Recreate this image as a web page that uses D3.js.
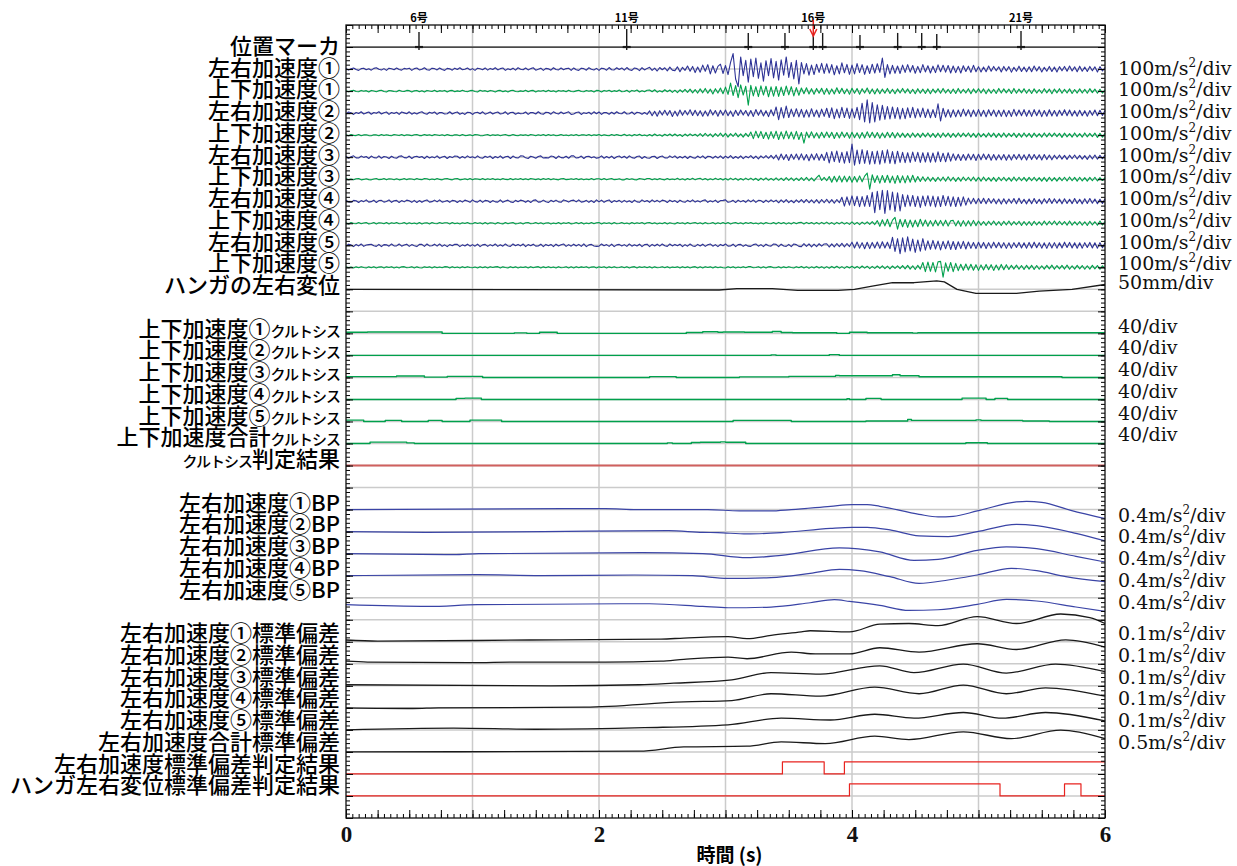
<!DOCTYPE html>
<html>
<head>
<meta charset="utf-8">
<script src="https://cdn.jsdelivr.net/npm/d3@7"></script>
<style>
body { margin: 0; background: #fff; }
</style>
</head>
<body>
<div id="chart"></div>
<script>
// ---- data ----
const dt = 0.02 // s, sampling of the acceleration traces (301 samples, 0..6 s)

const latAcc1 = [3,-4,1,5,-2,-6,2,4,-3,1,
  -5,3,6,-1,-4,2,-6,4,1,-3,
  5,-2,-5,3,0,4,-6,2,5,-4,
  -1,6,-3,-5,4,2,-4,5,-2,-6,
  3,1,-5,4,-2,6,-3,-1,5,-4,
  2,-6,4,1,-3,5,-5,3,-2,6,
  -4,2,5,-6,1,-3,4,-5,6,-1,
  -3,5,-4,2,6,-5,-1,4,-6,3,
  1,-5,6,-2,-4,5,-3,2,4,-6,
  5,-3,-6,4,2,-5,6,-1,-4,3,
  -6,4,2,-5,7,-3,-4,6,-2,5,
  -5,7,-3,-6,5,2,-7,6,-4,3,
  8,-6,4,-9,7,-3,6,-8,9,-5,
  -7,10,-12,8,-6,14,-10,12,-16,9,
  -14,18,-10,20,-22,15,-18,12,22,-20,
  16,-25,30,70,-45,-80,55,-30,40,-60,
  45,-35,50,-42,28,-55,38,-30,48,-40,
  35,-50,42,-28,55,-38,30,-45,40,-68,
  30,-22,25,-28,18,-25,22,-15,26,-20,
  24,-18,20,-26,15,-22,28,-17,21,-24,
  18,-22,25,-16,20,-24,15,-20,22,-18,
  24,-15,50,-38,20,-22,17,-19,14,-20,
  18,-15,20,-14,16,-19,12,-17,20,-13,
  15,-18,13,-16,19,-12,17,-14,16,-18,
  14,-16,12,-18,15,-11,13,-15,17,-12,
  11,-13,9,-12,14,-10,12,-8,10,-13,
  12,-9,11,-14,8,-10,13,-11,9,-12,
  10,-12,14,-9,11,-13,8,-10,12,-11,
  9,-13,11,-8,12,-10,14,-9,10,-12,
  13,-10,9,-11,12,-8,10,-13,11,-9,
  7]
const vertAcc1 = [2,-3,1,4,-2,-3,3,-1,2,-4,
  3,0,-3,2,4,-2,-4,3,1,-2,
  -3,4,-1,-2,3,2,-4,1,3,-3,
  2,-4,3,0,-2,4,-3,2,-1,3,
  -4,2,3,-3,1,-2,4,-1,-3,2,
  3,-2,-4,4,-1,2,-3,3,0,-4,
  2,3,-3,1,-4,2,4,-2,-3,1,
  -2,4,-3,2,3,-4,1,-1,3,-3,
  4,-2,1,-4,3,-1,2,-3,4,-2,
  -3,1,4,-2,-3,3,-1,2,-4,3,
  2,-4,3,-1,4,-3,2,-2,5,-3,
  -2,4,-5,3,-1,5,-4,2,-3,4,
  5,-3,6,-5,2,-4,6,-3,5,-6,
  4,-7,6,-5,8,-6,9,-8,7,-9,
  10,-8,12,-10,9,-13,11,-9,14,-12,
  18,-15,36,-20,25,-30,28,-18,22,-64,
  26,-22,20,-25,24,-18,22,-26,19,-23,
  21,-24,18,-20,23,-17,20,-22,16,-19,
  14,-12,15,-13,11,-14,12,-10,13,-15,
  12,-14,10,-13,15,-11,13,-12,10,-14,
  13,-10,12,-14,11,-9,14,-12,10,-13,
  11,-12,9,-10,12,-11,8,-12,10,-9,
  12,-9,10,-11,8,-12,11,-10,9,-11,
  10,-12,9,-8,11,-10,12,-9,8,-11,
  9,-11,12,-10,8,-9,11,-12,10,-8,
  11,-9,10,-12,9,-10,8,-11,12,-9,
  10,-8,9,-11,12,-10,9,-8,11,-10,
  8,-11,10,-9,7,-10,11,-8,9,-12,
  9,-8,11,-10,8,-9,10,-11,7,-9,
  10,-9,8,-10,11,-7,9,-10,8,-9,
  6]
const latAcc2 = [-4,5,2,-6,3,-2,6,-4,1,5,
  -5,3,-1,6,-4,2,5,-6,3,-2,
  4,-6,5,1,-3,6,-5,2,-4,3,
  6,-2,-5,4,-1,5,-6,3,2,-4,
  -3,6,-4,2,5,-5,1,-6,4,3,
  -6,2,4,-3,6,-5,-1,5,-4,2,
  5,-4,-2,6,-6,3,4,-5,1,-3,
  -2,5,-6,3,2,-4,6,-3,-5,4,
  3,-5,6,-1,-4,5,-3,2,6,-6,
  -4,3,5,-6,2,-2,4,-5,6,-3,
  5,-6,3,2,-5,4,-4,6,-2,-3,
  6,-4,-3,5,-6,4,2,-5,3,-6,
  10,-12,8,-14,11,-9,13,-10,12,-15,
  9,-13,14,-10,12,-8,15,-11,13,-12,
  11,-14,10,-13,15,-9,12,-14,13,-10,
  14,-12,10,-15,13,-11,14,-9,12,-13,
  12,-15,16,-10,14,-13,11,-16,15,-12,
  28,-30,25,-22,32,-20,18,-16,20,-17,
  17,-19,15,-18,20,-16,14,-19,18,-15,
  22,-20,24,-25,18,-22,26,-20,23,-24,
  20,-22,26,-30,45,-40,60,-45,48,-40,
  38,-32,35,-28,30,-26,28,-24,25,-27,
  22,-25,24,-20,26,-22,20,-18,23,-20,
  18,-21,16,-20,42,-36,22,-18,16,-19,
  15,-17,14,-16,18,-13,15,-17,14,-15,
  16,-14,13,-17,15,-12,14,-16,13,-15,
  14,-16,12,-15,17,-13,14,-12,16,-14,
  13,-15,16,-12,14,-16,12,-14,15,-13,
  12,-14,13,-11,15,-12,14,-13,11,-14,
  13,-12,11,-14,12,-10,14,-12,13,-11,
  12]
const vertAcc2 = [2,-3,3,-1,-2,3,-3,1,2,-2,
  -3,2,1,-3,3,-2,2,-1,-3,3,
  1,-2,3,-3,2,0,-3,2,3,-2,
  -2,3,-1,2,-3,3,1,-2,2,-3,
  3,-1,-3,2,1,-3,3,-2,-1,2,
  -3,3,2,-2,-3,1,3,-3,2,-1,
  2,-3,1,3,-2,-2,3,-1,-3,2,
  -1,2,-3,3,1,-3,2,-2,3,-3,
  3,-2,2,-3,-1,3,-2,1,-3,2,
  -2,3,-3,1,2,-2,3,-3,2,-1,
  3,-3,2,-1,-3,3,-2,3,-1,-2,
  4,-3,2,-4,3,-2,4,-3,1,-4,
  3,-4,5,-3,2,-5,4,-3,5,-4,
  5,-4,3,-6,5,-4,6,-3,4,-5,
  7,-6,8,-5,6,-8,7,-6,9,-7,
  8,-9,7,-6,9,-8,6,-9,8,-7,
  14,-16,18,-12,17,-15,13,-18,16,-14,
  18,-20,15,-17,19,-16,14,-18,17,-20,
  12,-36,14,-12,15,-13,11,-14,13,-12,
  14,-11,13,-15,12,-13,14,-10,12,-14,
  13,-12,11,-14,12,-13,15,-11,13,-12,
  12,-14,10,-12,13,-11,12,-13,11,-10,
  9,-10,8,-11,10,-9,8,-10,9,-8,
  10,-9,8,-10,9,-11,10,-8,9,-10,
  8,-9,10,-8,9,-7,10,-9,8,-10,
  9,-8,7,-9,10,-8,9,-10,8,-9,
  10,-9,8,-7,9,-10,8,-9,10,-8,
  8,-10,9,-8,7,-9,10,-8,9,-7,
  9,-7,8,-10,9,-8,7,-9,10,-8,
  7,-9,10,-8,8,-7,9,-10,8,-9,
  8]
const latAcc3 = [4,-5,2,6,-3,-4,5,-1,3,-6,
  5,-2,-4,6,-5,3,1,-6,4,-3,
  -5,4,6,-2,-3,5,-6,2,4,-1,
  3,-6,5,-4,2,-3,6,-5,1,4,
  -6,3,-2,5,4,-5,3,-4,6,-2,
  2,-4,6,-3,-5,4,-1,5,-6,3,
  -3,6,-5,2,4,-6,5,-2,-4,6,
  5,-3,-6,4,1,-5,3,6,-4,-2,
  -4,5,3,-6,5,-2,-3,4,-5,6,
  6,-4,-2,5,-6,3,4,-3,2,-5,
  -2,6,-5,3,-4,5,-6,2,5,-3,
  4,-5,6,-2,-5,3,5,-6,3,-4,
  -5,3,4,-6,2,5,-3,-4,6,-2,
  6,-5,3,-4,5,-6,4,-2,-5,5,
  -3,6,-6,4,3,-5,5,-4,6,-6,
  5,-4,7,-6,3,-5,6,-7,4,-3,
  7,-6,5,-8,6,-4,7,-5,8,-7,
  10,-13,14,-11,12,-15,13,-10,14,-12,
  15,-13,12,-16,14,-12,16,-14,13,-15,
  22,-26,25,-20,28,-24,22,-27,25,-25,
  60,-36,32,-30,34,-28,30,-32,26,-30,
  28,-32,30,-26,33,-28,25,-30,27,-24,
  22,-25,20,-24,23,-19,22,-24,20,-22,
  21,-23,19,-22,24,-20,18,-21,20,-18,
  15,-14,13,-15,12,-14,14,-12,13,-15,
  13,-12,14,-11,13,-14,12,-13,11,-12,
  12,-14,11,-13,12,-10,13,-12,11,-13,
  13,-11,12,-10,11,-13,12,-11,10,-12,
  9,-8,10,-9,8,-10,9,-7,10,-8,
  8,-9,7,-10,9,-8,10,-9,8,-7,
  9]
const vertAcc3 = [3,-2,1,-3,2,3,-3,-1,2,-2,
  -3,1,3,-2,-1,3,-3,2,1,-3,
  2,-3,-1,3,-2,2,1,-3,3,-1,
  -2,3,2,-3,1,-2,3,-1,-3,2,
  3,-1,-3,2,3,-3,-1,2,-2,3,
  -3,2,1,-2,3,-3,2,-1,3,-2,
  1,-3,3,-1,-2,3,-3,2,-1,3,
  -2,2,-3,3,1,-2,2,-3,3,-1,
  3,-3,2,-1,-3,2,3,-2,-1,2,
  -1,3,-2,2,-3,1,-2,3,-3,2,
  2,-2,3,-3,1,3,-2,-1,2,-3,
  -3,3,-1,2,-2,-3,3,1,-2,3,
  3,-3,2,-2,3,-1,-3,3,-2,1,
  -2,4,-3,2,-4,3,-2,4,-3,2,
  4,-3,3,-4,2,-3,4,-2,3,-4,
  3,-4,5,-3,4,-5,3,-4,5,-3,
  5,-4,4,-6,5,-4,6,-5,4,-5,
  6,-5,5,-6,7,-5,6,-7,5,-6,
  7,-6,8,-7,6,-8,7,18,-6,8,
  -7,12,-14,13,-12,15,-13,14,-12,13,
  -14,12,-13,15,-12,14,28,-45,20,-15,
  16,-18,17,-15,18,-16,14,-19,17,-16,
  15,-17,16,-14,18,-13,12,-10,11,-9,
  10,-9,8,-10,9,-8,10,-9,11,-8,
  9,-10,8,-9,10,-7,9,-8,10,-9,
  8,-9,10,-8,7,-9,8,-10,9,-7,
  9,-8,7,-9,10,-8,9,-7,8,-9,
  8,-7,9,-8,7,-9,8,-10,9,-8,
  7,-9,8,-7,9,-8,10,-7,8,-9,
  9,-8,7,-9,8,-7,9,-8,7,-6,
  7]
const latAcc4 = [5,-3,-5,4,2,-6,3,-2,6,-4,
  -2,5,-6,3,4,-4,-1,6,-5,2,
  4,-6,3,-3,5,2,-5,4,-6,3,
  -5,2,6,-4,-2,5,-3,6,-4,-1,
  3,-5,4,2,-6,3,-4,5,1,-5,
  6,-2,-4,5,-5,4,2,-6,3,-3,
  -4,6,-5,1,5,-3,-6,4,-2,5,
  2,-5,3,-6,4,6,-4,-3,5,-2,
  -6,4,-2,5,-3,-5,6,2,-4,3,
  5,-3,6,-4,-2,4,-5,3,-6,6,
  -3,5,-5,2,6,-6,3,-2,4,-5,
  4,-4,2,-6,5,-3,-5,6,-2,3,
  -5,6,-3,4,-4,5,2,-6,5,-2,
  3,-6,5,-2,-5,4,-3,6,-4,2,
  -4,3,6,-5,2,-3,5,-6,3,4,
  6,-5,-2,4,-6,5,-3,3,-5,6,
  -3,6,-5,4,3,-6,5,-4,6,-3,
  5,-7,6,-5,7,-6,4,-7,6,-5,
  7,-6,8,-7,6,-8,7,-9,8,-7,
  9,-8,7,-9,8,-7,18,-22,20,-18,
  24,-20,22,-25,21,-23,26,-24,40,-52,
  45,-38,50,-55,48,-40,42,-46,38,-44,
  30,-25,28,-22,26,-24,22,-28,24,-21,
  25,-22,23,-26,21,-24,26,-20,22,-23,
  20,-24,18,-22,20,-18,14,-12,13,-11,
  12,-10,13,-11,12,-9,11,-12,10,-13,
  11,-12,10,-9,12,-11,13,-10,9,-12,
  10,-11,12,-10,9,-12,11,-9,12,-10,
  11,-9,10,-12,11,-10,9,-11,12,-10,
  9,-12,11,-10,12,-9,10,-11,9,-10,
  11]
const vertAcc4 = [2,-3,3,-1,-2,3,-2,1,3,-3,
  -1,3,-3,2,1,-2,3,-3,2,-1,
  3,-2,-1,3,-3,2,-2,1,-3,3,
  -3,1,2,-3,3,-1,-2,3,-1,2,
  2,-3,3,-2,1,-3,2,-1,3,-2,
  -2,3,-1,2,-3,3,-3,2,1,-3,
  3,-1,-3,3,-2,1,3,-3,-1,2,
  -3,2,3,-2,-1,3,-2,2,-3,1,
  2,-3,1,-2,3,-3,2,-1,3,-3,
  -1,3,-2,3,-3,1,-2,3,-2,2,
  3,-3,2,-1,2,-3,3,-2,-1,3,
  -2,1,-3,3,-2,2,-1,3,-3,2,
  3,-2,2,-3,1,-2,3,-3,2,-1,
  -3,3,-1,2,-3,3,-2,1,3,-2,
  2,-3,3,-2,-1,3,-3,2,-2,3,
  -2,3,-3,1,3,-2,2,-3,3,-1,
  3,-2,1,-3,2,-3,3,-1,-2,3,
  -3,4,-2,3,-4,2,-3,4,-2,3,
  4,-3,4,-2,3,-4,3,-4,4,-3,
  5,-4,3,-5,4,-3,5,-4,3,-5,
  6,-5,4,-6,5,-4,6,-5,7,-6,
  12,-14,16,-12,18,-16,14,27,-27,18,
  -16,17,-19,15,-17,14,-16,18,-13,15,
  -14,12,-13,14,-11,13,-12,14,-13,11,
  13,-12,11,-14,12,-13,11,-12,13,-11,
  10,-9,8,-10,9,-8,10,-9,8,-10,
  9,-8,10,-9,8,-7,9,-10,8,-9,
  8,-10,9,-8,7,-9,10,-8,9,-7,
  10,-8,9,-7,8,-9,10,-9,7,-8,
  8,-9,7,-10,9,-8,7,-9,10,-8,
  7]
const latAcc5 = [-4,5,2,-6,4,-3,6,-5,1,3,
  5,-2,-5,4,-6,3,2,-4,6,-3,
  -3,6,-4,1,5,-5,3,-2,-6,4,
  4,-5,6,-3,-2,5,-4,6,-5,2,
  -6,3,-2,5,4,-6,2,-3,5,-4,
  3,-4,5,-6,2,4,-5,3,-3,6,
  -5,2,-4,6,-3,-5,6,-2,4,-3,
  6,-6,3,-2,5,-4,-3,5,-6,4,
  -2,4,-6,5,-3,2,6,-5,3,-4,
  5,-3,4,-5,6,-6,2,4,-3,-5,
  -4,6,-2,3,-5,5,-6,2,4,-3,
  3,-5,6,-4,2,-3,5,-6,3,5,
  -6,4,-3,5,-4,6,-2,-5,6,-3,
  4,-2,5,-6,3,-4,6,-3,-5,4,
  -3,5,-5,2,6,-4,3,-6,4,-2,
  6,-4,-3,5,-6,3,4,-5,2,-4,
  -5,3,6,-4,3,-6,5,-2,-4,6,
  4,-6,5,-3,-5,4,-6,6,3,-5,
  -6,7,-5,6,-7,5,-6,7,-4,6,
  7,-8,6,-7,8,-6,9,-7,8,-6,
  14,-12,15,-13,12,-16,14,-15,13,-12,
  15,-14,16,-12,14,-15,36,-28,30,-38,
  34,-30,38,-26,28,-32,24,-27,30,-22,
  20,-18,22,-17,19,-21,18,-16,20,-19,
  17,-19,16,-15,18,-17,15,-14,13,-15,
  14,-12,13,-15,12,-13,14,-11,13,-12,
  12,-14,11,-13,12,-10,13,-12,11,-13,
  13,-12,14,-11,12,-13,11,-14,12,-12,
  12,-13,11,-12,14,-10,13,-12,11,-13,
  11,-13,12,-10,13,-12,11,-13,12,-11,
  12]
const vertAcc5 = [3,-2,1,-3,2,-2,3,-1,-3,2,
  -2,3,-3,1,2,-3,2,-1,3,-3,
  1,-3,2,3,-2,-1,3,-3,2,-2,
  -3,2,-1,2,-3,3,-2,1,-2,3,
  2,-3,3,-2,1,-3,3,-2,3,-1,
  -2,1,-3,3,-2,2,-3,3,-1,2,
  3,-3,2,-1,-3,3,-2,2,-3,1,
  -1,2,-3,3,-2,1,3,-3,2,-2,
  3,-2,1,-3,3,-2,-1,3,-3,2,
  -3,3,-2,2,-1,3,-3,1,2,-3,
  2,-1,3,-3,2,-2,3,-2,-1,3,
  -2,3,-3,1,3,-3,2,-1,3,-2,
  3,-3,2,-2,-1,3,-2,3,-3,1,
  -1,2,-3,3,-2,2,-3,1,3,-3,
  2,-3,3,-1,2,-3,3,-2,1,-2,
  -3,3,-2,3,-3,1,-2,3,-2,3,
  3,-2,-1,3,-3,2,-3,2,3,-2,
  -2,3,-3,2,-2,3,-1,-3,3,-2,
  4,-3,3,-4,2,-3,4,-3,3,-4,
  3,-4,4,-3,5,-4,3,-5,4,-3,
  5,-4,4,-5,6,-4,5,-6,4,-5,
  6,-5,7,-6,5,-7,6,-5,7,-6,
  8,-7,9,-8,7,-10,9,-8,22,-20,
  24,-18,22,-21,25,27,-45,20,-18,22,
  -20,18,-15,14,-13,15,-12,14,-13,12,
  -14,11,-12,13,-11,12,-14,10,-12,13,
  -11,12,-10,9,-8,10,-9,8,-10,9,
  -8,9,-10,8,-9,7,-8,9,-7,10,
  -9,8,-7,9,-8,10,-9,7,-8,9,
  -7,8,-9,7,-8,9,-7,8,-9,7,
  -6]

// hanger lateral displacement [s, mm]
const hangerDisp = [[0,0],[2.95,-1.5],[3.09,1.5],[3.37,1.5],[3.57,-2.3],[3.89,-2.3],[4.02,0],[4.16,7.5],[4.32,15],[4.49,15],[4.67,19],[4.73,17],[4.83,0],[4.98,-9],[5.3,-9],[5.48,-4],[5.74,0],[6,11]]

// kurtosis of vertical acceleration, step values [s, value]
const kurt1 = [[0,2],[0.17,2.5],[0.76,0],[1.33,1],[1.43,0],[1.53,2],[1.67,0],[2.69,1.5],[2.82,3],[2.94,2],[2.98,2.5],[3.15,2],[3.37,3.5],[3.44,1.5],[3.53,1.2],[3.88,0],[3.98,2],[4.12,1.2],[4.48,0.5],[4.52,1.2],[6,1.2]]
const kurt2 = [[0,0],[3.36,1],[3.4,0],[3.82,1.5],[3.9,0],[6,0]]
const kurt3 = [[0,1.5],[0.4,2.5],[0.62,0.5],[0.8,2],[1.08,0],[2.4,1.5],[2.61,0],[3.11,1],[3.5,2],[3.87,3.5],[3.9,3],[4.32,5],[4.38,3],[4.53,1.3],[5.66,0],[6,0]]
const kurt4 = [[0,0],[0.87,2],[0.94,2.5],[1.07,0],[3.96,1.2],[3.98,0],[4.11,2],[4.23,0],[4.87,2.5],[5.06,0],[5.13,2],[5.23,0],[6,0]]
const kurt5 = [[0,2.5],[0.14,0],[0.31,2],[0.44,0],[0.65,2],[0.76,0],[0.98,2.5],[1.23,0],[3.06,2],[3.52,0],[4.11,1],[4.44,3.5],[4.47,2],[4.98,3],[5.02,2],[5.35,1],[5.56,0],[6,0]]
const kurtSum = [[0,0],[0.19,2.5],[0.48,1.2],[0.54,0],[2.54,1.2],[2.58,0],[2.73,2],[2.8,2.3],[2.96,3],[3.0,2.3],[3.16,0],[4.9,1.3],[5.07,0],[6,0]]
const kurtJudge = [[0,0],[6,0]]

// band-passed lateral acceleration [s, m/s2]
const bp1 = [[0,0],[2.05,0.018],[2.3,0],[2.86,0],[3.11,-0.024],[3.35,-0.024],[3.52,0],[3.83,0.06],[4.0,0.091],[4.12,0.091],[4.22,0.06],[4.53,-0.085],[4.68,-0.133],[4.8,-0.122],[4.99,-0.024],[5.3,0.14],[5.38,0.151],[5.5,0.133],[5.73,-0.013],[6,-0.164]]
const bp2 = [[0,0],[0.63,-0.013],[1.56,0],[2.55,0.018],[2.82,-0.013],[2.94,-0.018],[3.17,-0.042],[3.44,-0.018],[3.83,0.06],[4.0,0.078],[4.12,0.078],[4.3,0.031],[4.53,-0.078],[4.76,-0.091],[4.99,0],[5.3,0.133],[5.46,0.109],[5.77,-0.031],[6,-0.169]]
const bp3 = [[0,0],[0.85,-0.018],[1.05,0],[2.34,0.018],[2.82,0],[3.17,-0.073],[3.44,-0.031],[3.9,0.104],[4.22,0.031],[4.49,-0.122],[4.68,-0.104],[4.99,0.06],[5.22,0.122],[5.46,0.091],[5.77,-0.049],[6,-0.151]]
const bp4 = [[0,0],[1.04,0.018],[1.54,0],[2.28,0.013],[2.74,0],[3.02,-0.049],[3.36,-0.036],[3.67,0.042],[3.9,0.115],[4.06,0.091],[4.3,-0.018],[4.53,-0.14],[4.76,-0.078],[4.99,0.013],[5.26,0.133],[5.46,0.091],[5.69,-0.018],[6,-0.109]]
const bp5 = [[0,-0.127],[0.65,-0.158],[1.04,-0.127],[2.4,-0.109],[2.82,-0.158],[3.02,-0.182],[3.36,-0.169],[3.67,-0.091],[3.86,-0.036],[3.98,-0.067],[4.22,-0.14],[4.45,-0.231],[4.68,-0.218],[4.99,-0.122],[5.22,-0.031],[5.46,-0.06],[5.77,-0.169],[6,-0.249]]

// standard deviation of lateral acceleration [s, m/s2]
const sd1 = [[0,0.008],[0.25,0.003],[1.45,0.008],[2.49,0.012],[2.67,0.017],[3.02,0.023],[3.17,0.014],[3.36,0.029],[3.6,0.045],[3.67,0.05],[3.98,0.045],[4.22,0.08],[4.45,0.083],[4.68,0.073],[4.99,0.114],[5.3,0.083],[5.65,0.126],[5.88,0.11],[6,0.083]]
const sd2 = [[0,0.012],[0.17,0.008],[0.98,0.005],[1.35,0.008],[2.05,0.008],[2.49,0.012],[2.67,0.02],[3.02,0.03],[3.17,0.023],[3.52,0.053],[3.71,0.045],[3.98,0.045],[4.22,0.073],[4.53,0.053],[4.99,0.091],[5.3,0.065],[5.69,0.109],[6,0.076]]
const sd3 = [[0,0.005],[1.62,0],[2.32,0.005],[2.59,0.012],[3.05,0.027],[3.36,0.06],[3.75,0.053],[4.22,0.091],[4.49,0.06],[4.88,0.099],[5.22,0.058],[5.61,0.099],[6,0.065]]
const sd4 = [[0,0],[0.53,-0.003],[0.73,0],[1.89,0.003],[2.67,0.027],[3.05,0.033],[3.36,0.064],[3.75,0.053],[4.18,0.094],[4.53,0.064],[4.88,0.103],[5.22,0.064],[5.53,0.091],[6,0.053]]
const sd5 = [[0,0],[0.85,0.008],[1.5,0.003],[2.36,0.01],[3.02,0.023],[3.44,0.053],[3.83,0.045],[4.18,0.071],[4.49,0.053],[4.88,0.079],[5.19,0.053],[5.53,0.079],[6,0.041]]
const sdSum = [[0,0],[2.32,0.016],[2.67,0.114],[3.17,0.13],[3.44,0.227],[3.79,0.189],[4.18,0.357],[4.45,0.28],[4.88,0.455],[5.26,0.302],[5.65,0.493],[6,0.302]]

// judgement flags (0 / 1)
const sdJudge = [[0,0],[3.45,1],[3.78,0],[3.94,1],[6,1]]
const hangerJudge = [[0,0],[3.98,1],[5.17,0],[5.68,1],[5.81,0],[6,0]]

// position markers (pole numbers)
const markerTimes = [0.577, 2.219, 3.18, 3.47, 3.694, 3.768, 4.063, 4.361, 4.551, 4.67, 5.336]
const markerLevels = [0.68, 0.82, 0.64, 0.64, 0.64, 0.64, 0.55, 0.64, 0.64, 0.59, 0.73]
const poleNames = ['6号', '11号', '16号', '21号']
const poleTimes = [0.577, 2.219, 3.694, 5.336]
const arrowTime = 3.694

const xTicks = [0, 2, 4, 6]
const xTitle = '時間 (s)'

const rowLabels = ['位置マーカ',
  '左右加速度①', '上下加速度①', '左右加速度②', '上下加速度②', '左右加速度③',
  '上下加速度③', '左右加速度④', '上下加速度④', '左右加速度⑤', '上下加速度⑤',
  'ハンガの左右変位', '',
  '上下加速度①クルトシス', '上下加速度②クルトシス', '上下加速度③クルトシス',
  '上下加速度④クルトシス', '上下加速度⑤クルトシス', '上下加速度合計クルトシス',
  'クルトシス判定結果', '',
  '左右加速度①BP', '左右加速度②BP', '左右加速度③BP', '左右加速度④BP', '左右加速度⑤BP', '',
  '左右加速度①標準偏差', '左右加速度②標準偏差', '左右加速度③標準偏差',
  '左右加速度④標準偏差', '左右加速度⑤標準偏差', '左右加速度合計標準偏差',
  '左右加速度標準偏差判定結果', 'ハンガ左右変位標準偏差判定結果']
const unitLabels = ['',
  '100m/s²/div', '100m/s²/div', '100m/s²/div', '100m/s²/div', '100m/s²/div',
  '100m/s²/div', '100m/s²/div', '100m/s²/div', '100m/s²/div', '100m/s²/div',
  '50mm/div', '',
  '40/div', '40/div', '40/div', '40/div', '40/div', '40/div', '', '',
  '0.4m/s²/div', '0.4m/s²/div', '0.4m/s²/div', '0.4m/s²/div', '0.4m/s²/div', '',
  '0.1m/s²/div', '0.1m/s²/div', '0.1m/s²/div', '0.1m/s²/div', '0.1m/s²/div', '0.5m/s²/div', '', '']

// ---- drawing ----
const W = 1237, H = 866
const plotL = 346, plotR = 1105, plotT = 25, plotB = 818
const nRows = 36

const blue = '#2d3296', green = '#00a04c', red = '#e8231f', black = '#1a1a1a'

const x = d3.scaleLinear().domain([0, 6]).range([plotL, plotR])
const row = d3.scaleLinear().domain([0, nRows]).range([plotT, plotB])
const rowH = row(1) - row(0)

const svg = d3.select('#chart').append('svg')
  .attr('width', W).attr('height', H)
  .style('font-family', '"Noto Sans CJK JP", sans-serif')

// grid
svg.append('g').selectAll('line')
  .data(d3.range(1, nRows)).join('line')
  .attr('x1', plotL).attr('x2', plotR)
  .attr('y1', d => row(d)).attr('y2', d => row(d))
  .attr('stroke', '#cbcbcb').attr('stroke-width', 1.5)
svg.append('g').selectAll('line')
  .data(d3.range(1, 6)).join('line')
  .attr('x1', d => x(d)).attr('x2', d => x(d))
  .attr('y1', plotT).attr('y2', plotB)
  .attr('stroke', '#cbcbcb').attr('stroke-width', 1.5)

function trace(r, pts, perDiv, color, w, curve) {
  const base = row(r)
  const y = d3.scaleLinear().domain([0, perDiv]).range([base, base - rowH])
  const line = d3.line().x(d => x(d[0])).y(d => y(d[1])).curve(curve || d3.curveLinear)
  svg.append('path').datum(pts)
    .attr('d', line)
    .attr('fill', 'none')
    .attr('stroke', color)
    .attr('stroke-width', w || 1.3)
    .attr('stroke-linejoin', 'round')
}
const sampled = arr => arr.map((v, i) => [i * dt, v])

// position markers
trace(1, [[0, 0], [6, 0]], 1, black, 1.3)
const mBase = row(1)
const mY = d3.scaleLinear().domain([0, 1]).range([mBase, mBase - rowH])
svg.append('g').selectAll('path')
  .data(markerTimes.map((t, i) => [t, markerLevels[i]])).join('path')
  .attr('d', d => `M${x(d[0])},${mBase + 3}L${x(d[0])},${mY(d[1])}`)
  .attr('stroke', black).attr('stroke-width', 1.4)
svg.append('g').selectAll('path')
  .data(markerTimes).join('path')
  .attr('d', t => `M${x(t) - 4},${mBase}L${x(t) + 4},${mBase}`)
  .attr('stroke', black).attr('stroke-width', 2.2)
svg.append('g').selectAll('text')
  .data(poleNames).join('text')
  .attr('x', (d, i) => x(poleTimes[i]))
  .attr('y', 22)
  .attr('text-anchor', 'middle')
  .attr('font-size', 11).attr('font-weight', 'bold')
  .text(d => d)
const ax = x(arrowTime)
svg.append('path').attr('d', `M${ax},${20}L${ax},${34}`)
  .attr('stroke', red).attr('stroke-width', 1.5)
svg.append('path').attr('d', `M${ax - 3.5},${29}L${ax},${36}L${ax + 3.5},${29}`)
  .attr('fill', 'none').attr('stroke', red).attr('stroke-width', 1.5)

// accelerations
const accSeries = [latAcc1, vertAcc1, latAcc2, vertAcc2, latAcc3, vertAcc3, latAcc4, vertAcc4, latAcc5, vertAcc5]
accSeries.forEach((s, i) => trace(2 + i, sampled(s), 100, i % 2 ? green : blue, 1.1))
trace(12, hangerDisp, 50, black, 1.3)

// kurtosis
;[kurt1, kurt2, kurt3, kurt4, kurt5, kurtSum].forEach((s, i) =>
  trace(14 + i, s, 40, green, 1.4, d3.curveStepAfter))
trace(20, kurtJudge, 1, '#d0605e', 2)

// band-pass
;[bp1, bp2, bp3, bp4, bp5].forEach((s, i) => trace(22 + i, s, 0.4, '#3a44a6', 1.2, d3.curveMonotoneX))

// standard deviation
;[sd1, sd2, sd3, sd4, sd5].forEach((s, i) => trace(28 + i, s, 0.1, black, 1.3, d3.curveMonotoneX))
trace(33, sdSum, 0.5, black, 1.3, d3.curveMonotoneX)
trace(34, sdJudge, 1 / 0.55, red, 1.2, d3.curveStepAfter)
trace(35, hangerJudge, 1 / 0.55, red, 1.2, d3.curveStepAfter)

// ticks on all four sides, pointing inward
function ticksX(step, size) {
  const vals = d3.range(0, 6 + 1e-6, step)
  svg.append('g').attr('transform', `translate(0,${plotT})`)
    .call(d3.axisTop(x).tickValues(vals).tickSize(-size).tickFormat(''))
    .call(g => g.select('.domain').remove())
  svg.append('g').attr('transform', `translate(0,${plotB})`)
    .call(d3.axisBottom(x).tickValues(vals).tickSize(-size).tickFormat(''))
    .call(g => g.select('.domain').remove())
}
ticksX(0.05, 4)
ticksX(0.25, 8)
function ticksY(step, size) {
  const vals = d3.range(0, nRows + 1e-6, step)
  svg.append('g').attr('transform', `translate(${plotL},0)`)
    .call(d3.axisLeft(row).tickValues(vals).tickSize(-size).tickFormat(''))
    .call(g => g.select('.domain').remove())
  svg.append('g').attr('transform', `translate(${plotR},0)`)
    .call(d3.axisRight(row).tickValues(vals).tickSize(-size).tickFormat(''))
    .call(g => g.select('.domain').remove())
}
ticksY(0.2, 4)
ticksY(1, 7)

svg.append('rect')
  .attr('x', plotL).attr('y', plotT)
  .attr('width', plotR - plotL).attr('height', plotB - plotT)
  .attr('fill', 'none').attr('stroke', '#111').attr('stroke-width', 1.3)

// x tick labels and title
svg.append('g').attr('transform', `translate(0,${plotB})`)
  .call(d3.axisBottom(x).tickValues(xTicks).tickSize(0).tickPadding(8).tickFormat(d3.format('d')))
  .call(g => g.select('.domain').remove())
  .call(g => g.selectAll('text')
    .attr('font-family', '"Liberation Serif", serif')
    .attr('font-weight', 'bold').attr('font-size', 23).attr('fill', '#111'))
svg.append('text')
  .attr('x', (plotL + plotR) / 2 + 4).attr('y', 862)
  .attr('text-anchor', 'middle')
  .attr('font-size', 19).attr('font-weight', 'bold')
  .text(xTitle)

// row labels on the left
const labelY = r => 46 + (r - 1) * 21.75
rowLabels.forEach((lab, i) => {
  if (!lab) return
  const t = svg.append('text')
    .attr('x', 340).attr('y', labelY(i + 1))
    .attr('dy', '0.36em')
    .attr('text-anchor', 'end')
    .attr('font-size', 22)
    .attr('font-weight', 500)
    .attr('fill', '#000')
  const k = lab.indexOf('クルトシス')
  if (k < 0) { t.text(lab); return }
  if (k > 0) t.append('tspan').text(lab.slice(0, k))
  t.append('tspan').attr('font-size', 15).attr('letter-spacing', -1).text('クルトシス')
  if (k + 5 < lab.length) t.append('tspan').text(lab.slice(k + 5))
})

// scale labels on the right (the groups sit a little off the row labels)
const unitShift = r => (r >= 22 && r <= 26) ? 12 : (r >= 12 && r <= 19) ? -3 : 0
unitLabels.forEach((lab, i) => {
  if (!lab) return
  const t = svg.append('text')
    .attr('x', 1118).attr('y', labelY(i + 1) + unitShift(i + 1))
    .attr('dy', '0.36em')
    .attr('font-family', '"DejaVu Serif", serif')
    .attr('font-size', 19)
    .attr('fill', '#111')
  const parts = lab.split('²')
  t.append('tspan').text(parts[0])
  if (parts.length > 1) {
    t.append('tspan').attr('dy', -8).attr('font-size', 12).text('2')
    t.append('tspan').attr('dy', 8).text(parts[1])
  }
})
</script>
</body>
</html>
